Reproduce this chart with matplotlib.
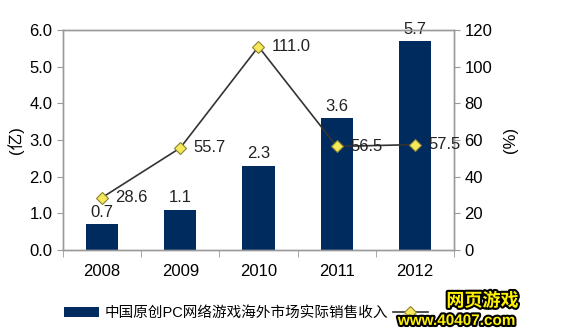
import matplotlib.pyplot as plt
import matplotlib.patheffects as pe
import numpy as np

plt.rcParams['font.family'] = ['Liberation Sans', 'Noto Sans CJK SC', 'DejaVu Sans']

years = ['2008', '2009', '2010', '2011', '2012']
revenue = [0.7, 1.1, 2.3, 3.6, 5.7]      # 亿
growth = [28.6, 55.7, 111.0, 56.5, 57.5]  # %

bar_color = '#002B5E'
grid_gray = '#9A9A9A'
fs = 12

fig = plt.figure(figsize=(5.65, 3.35), dpi=100)
ax = fig.add_axes([0.1115, 0.254, 0.692, 0.656])
ax2 = ax.twinx()

x = np.arange(len(years))
bars = ax.bar(x, revenue, width=0.41, color=bar_color, zorder=2)
for xi, v in zip(x, revenue):
    ax.text(xi, v + 0.12, f'{v:.1f}', ha='center', va='bottom', fontsize=fs, color='#222222')

line, = ax2.plot(x, growth, color='#333333', lw=1.2, marker='D', markersize=6.5,
                 markerfacecolor='#F5E85A', markeredgecolor='#8C8230', markeredgewidth=0.8,
                 zorder=3)
for xi, v in zip(x, growth):
    ax2.text(xi + 0.17, v, f'{v:.1f}', ha='left', va='center', fontsize=fs, color='#222222')

ax.set_xlim(-0.5, 4.5)
ax.set_ylim(0, 6)
ax.set_yticks(np.arange(0, 6.1, 1))
ax.set_yticklabels([f'{t:.1f}' for t in np.arange(0, 6.1, 1)])
ax2.set_ylim(0, 120)
ax2.set_yticks(range(0, 121, 20))

ax.set_xticks(x)
ax.set_xticklabels(years)
ax.set_xticks(np.arange(-0.5, 4.6, 1), minor=True)
ax.tick_params(axis='x', which='major', length=0, pad=10, labelsize=fs)
ax.tick_params(axis='x', which='minor', length=5, color=grid_gray, direction='out')
ax.tick_params(axis='y', labelsize=fs, length=4, color=grid_gray, direction='out')
ax2.tick_params(axis='y', labelsize=fs, length=4, color=grid_gray, direction='out')

for a in (ax, ax2):
    for s in a.spines.values():
        s.set_color(grid_gray)
        s.set_linewidth(1.0)

ax.set_ylabel('(亿)', fontsize=fs, labelpad=4)
ax2.set_ylabel('(%)', fontsize=fs, rotation=90, labelpad=8)

fig.legend([bars, line], ['中国原创PC网络游戏海外市场实际销售收入', ' '],
           loc='center left', bbox_to_anchor=(0.09, 0.065), ncol=2, frameon=False,
           fontsize=10.5, handlelength=2.4, handletextpad=0.4, columnspacing=0.3)

# watermark
fig.text(0.79, 0.10, '网页游戏', ha='left', va='center', fontsize=13, fontweight='bold',
         color='#FFF200', path_effects=[pe.withStroke(linewidth=3, foreground='black')], zorder=10)
fig.text(0.912, 0.042, 'www.40407.com', ha='right', va='center', fontsize=11, fontweight='bold',
         color='#FFF200', path_effects=[pe.withStroke(linewidth=3, foreground='black')], zorder=10)

fig.savefig('out.png', dpi=100)
